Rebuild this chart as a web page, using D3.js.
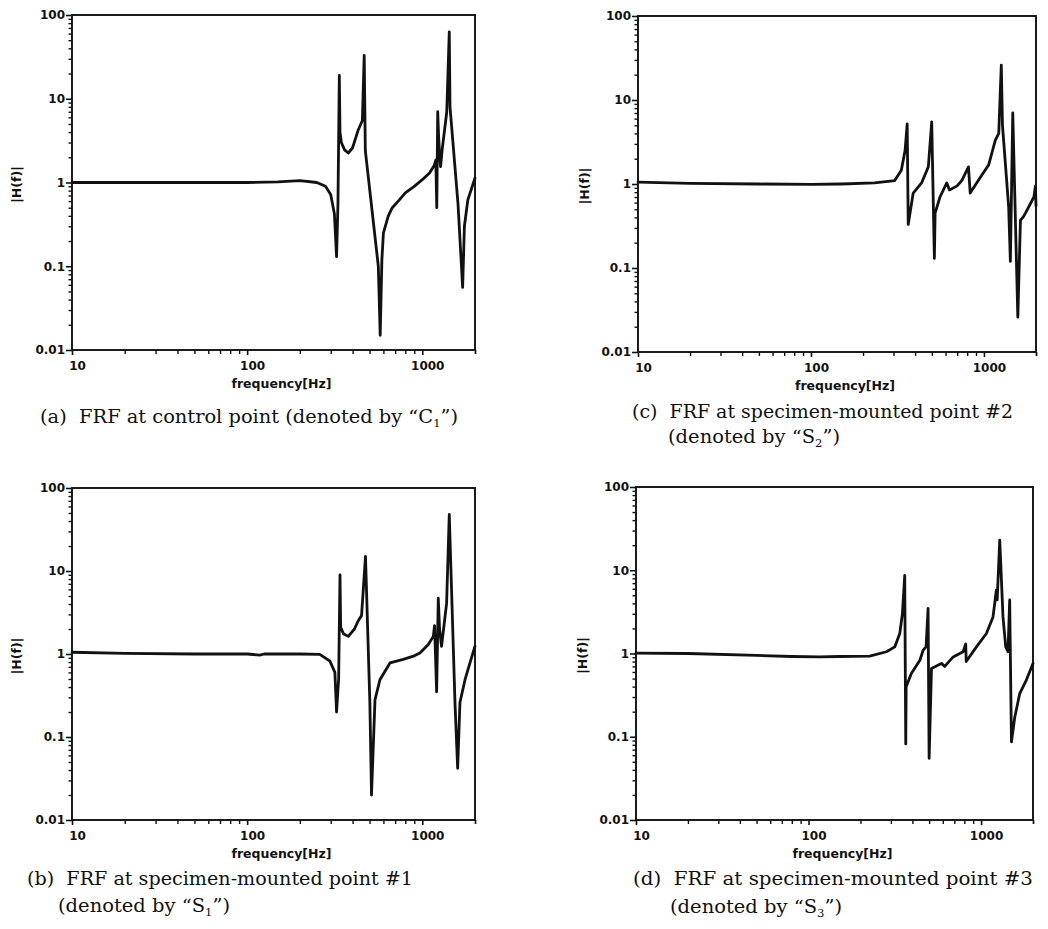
<!DOCTYPE html>
<html><head><meta charset="utf-8">
<script src="https://cdn.jsdelivr.net/npm/d3@7"></script>
<style>
body{margin:0;background:#fff;}
svg{display:block;}
.tick text{font-family:"DejaVu Sans",sans-serif;font-weight:bold;font-size:12px;fill:#111;}
.cap{font-family:"DejaVu Serif","Liberation Serif",serif;font-size:18.5px;fill:#111;white-space:pre;}
.ttl{font-family:"DejaVu Sans",sans-serif;font-weight:bold;font-size:12.5px;fill:#111;}
</style></head>
<body>
<svg id="fig" width="1048" height="929"></svg>
<script>
// ---- data (frequency [Hz], |H(f)|) ----
const xTickLabels = ["10", "100", "1000"];
const yTickLabels = ["0.01", "0.1", "1", "10", "100"];
const xTickValues = [10, 100, 1000];
const yTickValues = [0.01, 0.1, 1, 10, 100];

const frfC1 = [[10,1.0],[20,1.0],[50,1.0],[100,1.0],[150,1.02],[200,1.05],[250,1.0],[280,0.9],[300,0.72],[315,0.42],[324,0.13],[330,0.55],[336,19],[339,4.0],[345,3.0],[360,2.45],[378,2.25],[400,2.6],[430,4.2],[455,5.5],[466,33],[473,2.4],[561,0.1],[575,0.015],[588,0.12],[600,0.25],[640,0.4],[674,0.5],[740,0.62],[800,0.75],[900,0.9],[1000,1.08],[1100,1.3],[1170,1.6],[1195,1.86],[1210,0.5],[1225,7],[1240,3.5],[1258,2.0],[1272,1.55],[1300,2.5],[1380,7],[1426,63],[1440,8],[1600,0.55],[1700,0.056],[1740,0.3],[1820,0.62],[2000,1.13]];

const frfS1 = [[10,1.05],[20,1.02],[50,1.0],[100,1.0],[118,0.97],[125,1.0],[200,1.0],[260,0.99],[297,0.82],[317,0.6],[324,0.2],[333,0.5],[339,9.0],[342,2.1],[355,1.75],[378,1.63],[410,2.0],[430,2.5],[450,2.9],[474,15],[502,0.26],[513,0.02],[537,0.28],[573,0.49],[654,0.78],[778,0.86],[900,0.95],[970,1.03],[1082,1.3],[1156,1.63],[1175,2.2],[1208,0.35],[1234,4.7],[1255,2.0],[1288,1.24],[1340,2.5],[1377,4.1],[1426,48],[1537,0.26],[1592,0.042],[1641,0.26],[1754,0.49],[1872,0.78],[2000,1.24]];

const frfS2 = [[10,1.05],[20,1.02],[50,1.0],[100,0.99],[150,1.0],[233,1.03],[305,1.1],[333,1.46],[350,2.5],[360,5.2],[365,0.33],[390,0.78],[436,1.03],[477,1.6],[499,5.5],[517,0.13],[522,0.45],[557,0.7],[610,1.03],[632,0.85],[700,0.95],[745,1.1],[814,1.6],[833,0.78],[900,1.0],[973,1.28],[1064,1.68],[1163,3.3],[1218,4.0],[1260,26],[1280,5],[1390,0.53],[1422,0.12],[1468,7.0],[1570,0.026],[1626,0.37],[1680,0.4],[1738,0.45],[1945,0.7],[1985,0.95],[2000,0.55]];

const frfS3 = [[10,1.01],[20,1.0],[50,0.95],[80,0.92],[116,0.91],[150,0.92],[226,0.93],[283,1.05],[316,1.2],[338,1.74],[350,3.0],[361,8.7],[366,0.082],[368,0.4],[395,0.58],[442,0.83],[462,1.1],[480,1.2],[493,3.47],[500,0.055],[516,0.66],[589,0.76],[616,0.7],[689,0.91],[787,1.05],[815,1.3],[820,0.8],[940,1.2],[1074,1.74],[1173,2.75],[1227,5.8],[1240,4.4],[1283,23],[1340,2.75],[1390,1.2],[1433,1.05],[1465,4.4],[1500,0.087],[1567,0.17],[1675,0.33],[1830,0.48],[2000,0.76]];

// ---- layout ----
const panels = [
  {data: frfC1, left: 72,  right: 475,  top: 15,  bottom: 350, ylx: 17,
   cap: [{x: 40, y: 423, w: 418, parts: [["(a)  FRF at control point (denoted by “C"],["1","sub"],["”)"]]}]},
  {data: frfS2, left: 638, right: 1036, top: 16,  bottom: 352, ylx: 585,
   cap: [{x: 632, y: 418, w: 381, parts: [["(c)  FRF at specimen-mounted point #2"]]},
         {x: 668, y: 443, w: 172, parts: [["(denoted by “S"],["2","sub"],["”)"]]}]},
  {data: frfS1, left: 72,  right: 475,  top: 488, bottom: 820, ylx: 17,
   cap: [{x: 27, y: 885, w: 386, parts: [["(b)  FRF at specimen-mounted point #1"]]},
         {x: 58, y: 912, w: 172, parts: [["(denoted by “S"],["1","sub"],["”)"]]}]},
  {data: frfS3, left: 636, right: 1033, top: 487, bottom: 820, ylx: 583,
   cap: [{x: 633, y: 885, w: 400, parts: [["(d)  FRF at specimen-mounted point #3"]]},
         {x: 670, y: 913, w: 172, parts: [["(denoted by “S"],["3","sub"],["”)"]]}]}
];

const svg = d3.select("#fig");

panels.forEach(p => {
  const x = d3.scaleLog().domain([10, 2000]).range([p.left, p.right]);
  const y = d3.scaleLog().domain([0.01, 100]).range([p.bottom, p.top]);
  const g = svg.append("g");

  // minor ticks
  const xMinor = [];
  for (let d = 10; d < 2000; d *= 10) for (let k = 2; k <= 9; k++) if (d*k <= 2000) xMinor.push(d*k);
  xMinor.push(2000);
  const yMinor = [];
  for (let d = 0.01; d < 99; d *= 10) for (let k = 2; k <= 9; k++) yMinor.push(d*k);

  g.append("g").attr("transform", `translate(0,${p.bottom})`)
    .call(d3.axisBottom(x).tickValues(xMinor).tickSize(4).tickFormat(""))
    .call(a => a.select(".domain").remove())
    .selectAll("line").attr("stroke", "#111").attr("stroke-width", 1.4);
  g.append("g").attr("transform", `translate(${p.left},0)`)
    .call(d3.axisLeft(y).tickValues(yMinor).tickSize(3.5).tickFormat(""))
    .call(a => a.select(".domain").remove())
    .selectAll("line").attr("stroke", "#111").attr("stroke-width", 1.4);

  // major ticks + labels
  const ax = g.append("g").attr("transform", `translate(0,${p.bottom})`)
    .call(d3.axisBottom(x).tickValues(xTickValues).tickSize(5).tickPadding(6)
      .tickFormat((d, i) => xTickLabels[i]));
  ax.select(".domain").remove();
  ax.selectAll("line").attr("stroke", "#111").attr("stroke-width", 1.6);
  ax.selectAll("text").attr("dx", 5);

  const ay = g.append("g").attr("transform", `translate(${p.left},0)`)
    .call(d3.axisLeft(y).tickValues(yTickValues).tickSize(6).tickPadding(1)
      .tickFormat((d, i) => yTickLabels[i]));
  ay.select(".domain").remove();
  ay.selectAll("line").attr("stroke", "#111").attr("stroke-width", 1.6);

  // frame
  g.append("rect").attr("x", p.left).attr("y", p.top)
    .attr("width", p.right - p.left).attr("height", p.bottom - p.top)
    .attr("fill", "none").attr("stroke", "#111").attr("stroke-width", 1.9);

  // curve
  const line = d3.line().x(d => x(d[0])).y(d => y(d[1]));
  g.append("path").datum(p.data).attr("d", line)
    .attr("fill", "none").attr("stroke", "#111").attr("stroke-width", 2.8)
    .attr("stroke-linejoin", "round").attr("stroke-linecap", "round");

  // axis titles
  g.append("text").attr("class", "ttl")
    .attr("x", (p.left + p.right) / 2 + 8).attr("y", p.bottom + 38)
    .attr("text-anchor", "middle").text("frequency[Hz]");
  g.append("text").attr("class", "ttl")
    .attr("transform", `translate(${p.ylx + 4},${(p.top + p.bottom) / 2 + 2}) rotate(-90)`)
    .attr("text-anchor", "middle").text("|H(f)|");

  // captions
  p.cap.forEach(c => {
    const t = g.append("text").attr("class", "cap").attr("x", c.x).attr("y", c.y)
      .attr("textLength", c.w).attr("lengthAdjust", "spacingAndGlyphs");
    c.parts.forEach((pt, i) => {
      if (pt[1] === "sub") {
        t.append("tspan").attr("font-size", "11px").attr("dy", 4).text(pt[0]);
      } else {
        const ts = t.append("tspan").text(pt[0]);
        if (i > 0) ts.attr("dy", -4);
      }
    });
  });
});
</script>
</body></html>
